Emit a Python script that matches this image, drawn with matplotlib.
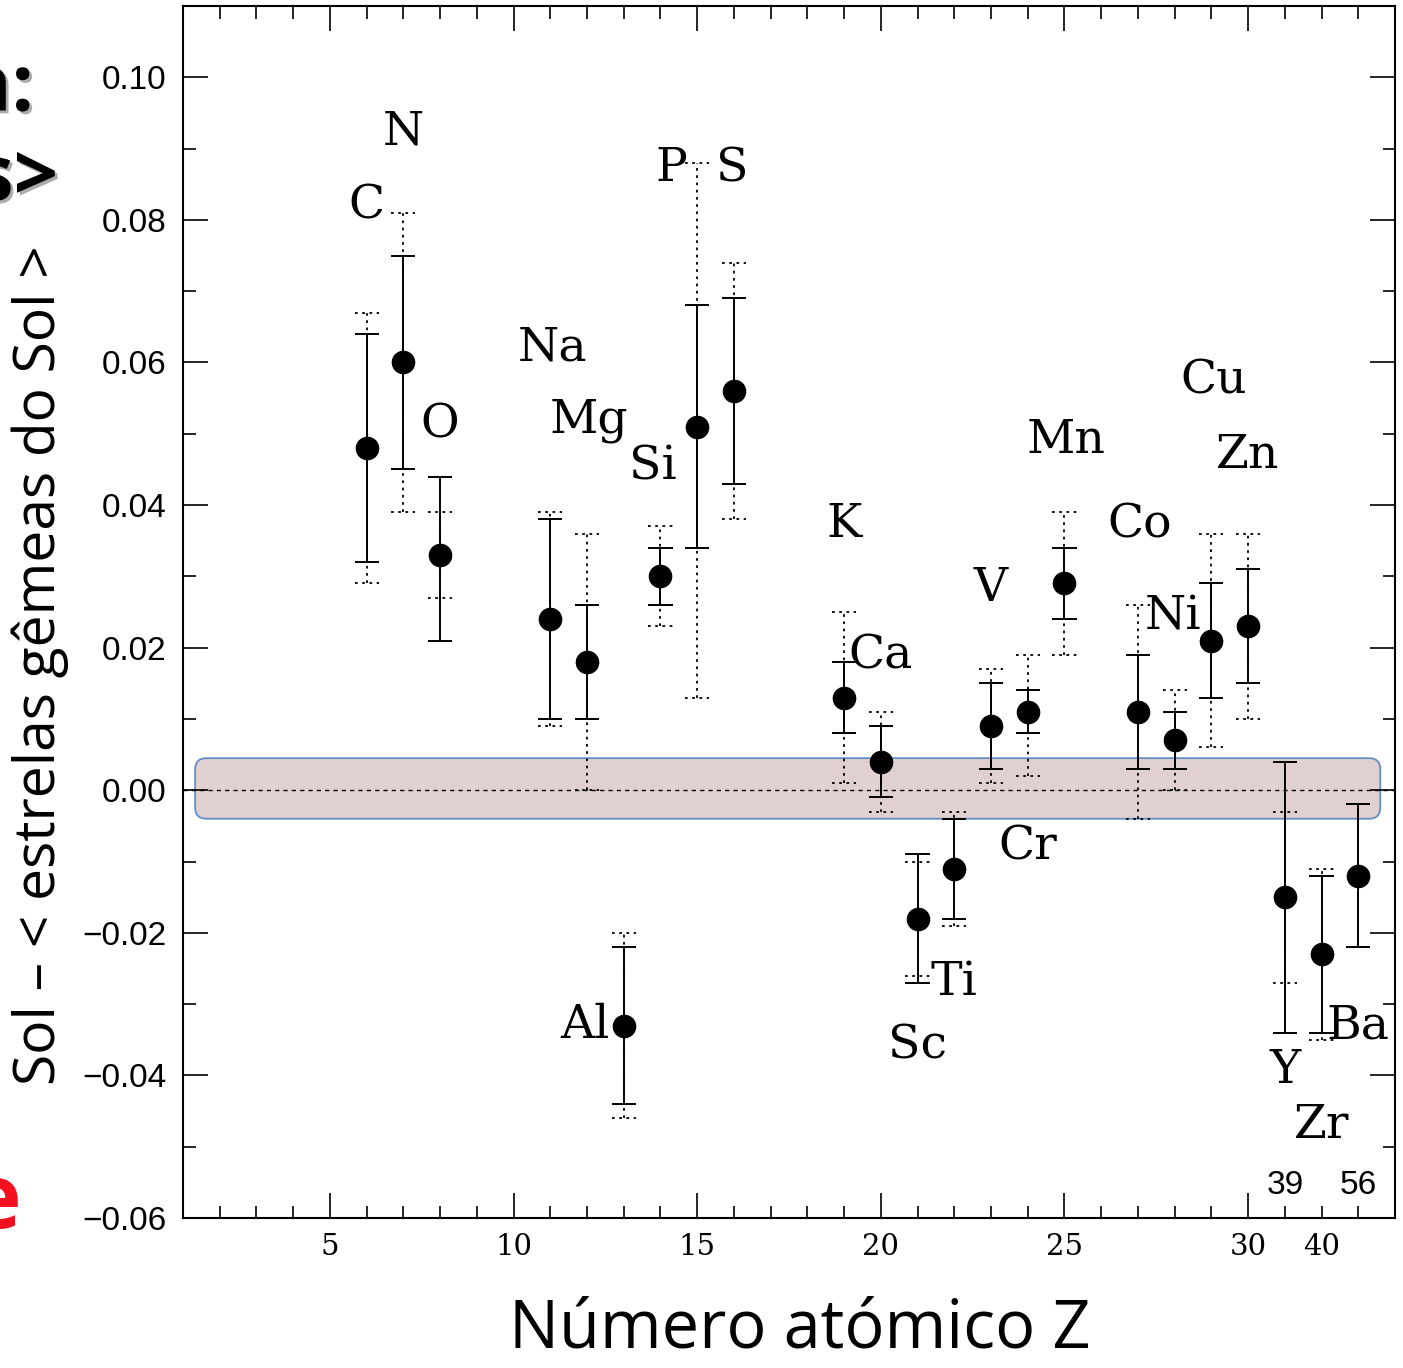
import matplotlib
matplotlib.use("Agg")
import matplotlib.pyplot as plt
import matplotlib.patheffects as pe
from matplotlib.patches import FancyBboxPatch
from matplotlib.ticker import MultipleLocator
import numpy as np

# ----------------------------------------------------------------------------
# data: [X/H]_Sun - <[X/H]_twins> for each element (Z axis compressed after 30)

elements = ['C', 'N', 'O', 'Na', 'Mg', 'Al', 'Si', 'P', 'S', 'K', 'Ca', 'Sc',
            'Ti', 'V', 'Cr', 'Mn', 'Co', 'Ni', 'Cu', 'Zn', 'Y', 'Zr', 'Ba']
z_pos = [6, 7, 8, 11, 12, 13, 14, 15, 16, 19, 20, 21,
         22, 23, 24, 25, 27, 28, 29, 30, 31, 32, 33]
diff = [0.048, 0.060, 0.033, 0.024, 0.018, -0.033, 0.030, 0.051, 0.056, 0.013, 0.004, -0.018,
        -0.011, 0.009, 0.011, 0.029, 0.011, 0.007, 0.021, 0.023, -0.015, -0.023, -0.012]
# solid error bars (top / bottom)
err_top = [0.064, 0.075, 0.044, 0.038, 0.026, -0.022, 0.034, 0.068, 0.069, 0.018, 0.009, -0.009,
           -0.004, 0.015, 0.014, 0.034, 0.019, 0.011, 0.029, 0.031, 0.004, -0.012, -0.002]
err_bot = [0.032, 0.045, 0.021, 0.010, 0.010, -0.044, 0.026, 0.034, 0.043, 0.008, -0.001, -0.027,
           -0.018, 0.003, 0.008, 0.024, 0.003, 0.003, 0.013, 0.015, -0.034, -0.034, -0.022]
# dotted error bars (top / bottom)
dot_top = [0.067, 0.081, 0.039, 0.039, 0.036, -0.020, 0.037, 0.088, 0.074, 0.025, 0.011, -0.010,
           -0.003, 0.017, 0.019, 0.039, 0.026, 0.014, 0.036, 0.036, -0.003, -0.011, np.nan]
dot_bot = [0.029, 0.039, 0.027, 0.009, 0.000, -0.046, 0.023, 0.013, 0.038, 0.001, -0.003, -0.026,
           -0.019, 0.001, 0.002, 0.019, -0.004, 0.000, 0.006, 0.010, -0.027, -0.035, np.nan]

# where each element name sits
label_x = [6.0, 7.0, 8.0, 11.05, 12.05, 11.95, 13.8, 14.3, 15.95, 19.0, 20.0, 21.0,
           22.0, 23.0, 24.0, 25.05, 27.05, 27.95, 29.05, 30.0, 31.0, 32.0, 33.0]
label_y = [0.082, 0.0924, 0.0512, 0.0621, 0.0519, -0.033, 0.0453, 0.0872, 0.0872, 0.0373, 0.0189, -0.0359,
           -0.0269, 0.0283, -0.008, 0.0491, 0.0372, 0.0243, 0.0574, 0.047, -0.0393, -0.047, -0.033]

xtick_pos = [5, 10, 15, 20, 25, 30, 32]
xtick_lab = ['5', '10', '15', '20', '25', '30', '40']
ytick_vals = [-0.06, -0.04, -0.02, 0.00, 0.02, 0.04, 0.06, 0.08, 0.10]
true_z_pos = [31, 33]
true_z_lab = ['39', '56']

# ----------------------------------------------------------------------------

fig = plt.figure(figsize=(14.03, 13.68), dpi=100)
ax = fig.add_axes([183 / 1403, 1 - 1218 / 1368, (1395 - 183) / 1403, (1218 - 6) / 1368])

xmin, xmax = 1.0, 34.0
ymin, ymax = -0.06, 0.110
ax.set_xlim(xmin, xmax)
ax.set_ylim(ymin, ymax)

# shaded band around zero (rounded box)
px_per_x = (1395 - 183) / (xmax - xmin)
px_per_y = (1218 - 6) / (ymax - ymin)
band = FancyBboxPatch((1.33, -0.004), 33.6 - 1.33, 0.0085,
                      boxstyle="round,pad=0,rounding_size=0.3",
                      mutation_aspect=px_per_x / px_per_y,
                      facecolor='#dcc8c8', edgecolor='#4a7ec0', lw=1.3, alpha=0.85, zorder=1)
ax.add_patch(band)

ax.axhline(0, color='black', ls=(0, (3, 3)), lw=1.0, zorder=2)

cap = 0.33
zz = np.array(z_pos)
# dotted bars
ax.vlines(z_pos, dot_bot, dot_top, colors='black', linestyles=(0, (1.5, 2.5)), lw=1.3, zorder=3)
ax.hlines(dot_top, zz - cap, zz + cap, colors='black', linestyles=(0, (1.5, 2.5)), lw=1.3, zorder=3)
ax.hlines(dot_bot, zz - cap, zz + cap, colors='black', linestyles=(0, (1.5, 2.5)), lw=1.3, zorder=3)
# solid bars
ax.vlines(z_pos, err_bot, err_top, colors='black', lw=1.4, zorder=4)
ax.hlines(err_top, zz - cap, zz + cap, colors='black', lw=1.4, zorder=4)
ax.hlines(err_bot, zz - cap, zz + cap, colors='black', lw=1.4, zorder=4)

ax.plot(z_pos, diff, 'o', color='black', ms=16, zorder=5)

for name, lx, ly in zip(elements, label_x, label_y):
    ax.text(lx, ly, name, ha='center', va='center', family='DejaVu Serif', fontsize=34, zorder=6)

for zx, zl in zip(true_z_pos, true_z_lab):
    ax.text(zx, -0.0555, zl, ha='center', va='center', family='Liberation Sans', fontsize=24)

# ticks
ax.set_xticks(xtick_pos)
ax.set_xticklabels(xtick_lab, family='DejaVu Serif', fontsize=21)
ax.xaxis.set_minor_locator(MultipleLocator(1))
ax.set_yticks(ytick_vals)
ax.set_yticklabels([('%.2f' % v).replace('-', '\u2212') for v in ytick_vals],
                   family='Liberation Sans', fontsize=24)
ax.yaxis.set_minor_locator(MultipleLocator(0.01))
ax.tick_params(which='both', direction='in', top=True, right=True, width=1.2)
ax.tick_params(which='major', length=18)
ax.tick_params(which='minor', length=9)
ax.tick_params(axis='x', which='major', pad=11)
ax.tick_params(axis='y', which='major', pad=12)
# the "40" position sits on a short tick
last = ax.xaxis.get_major_ticks()[-1]
last.tick1line.set_markersize(9)
last.tick2line.set_markersize(9)

for s in ax.spines.values():
    s.set_linewidth(1.5)

# slide text around the figure
fig.text(40 / 1403, 1 - 665 / 1368, 'Sol \u2013 < estrelas gêmeas do Sol >', rotation=90,
         ha='center', va='center', family='Open Sans', fontsize=41)
fig.text(800 / 1403, 1 - 1330 / 1368, 'Número atómico Z', ha='center', va='center',
         family='Open Sans', fontsize=48)

shadow = [pe.SimplePatchShadow(offset=(2, -2), shadow_rgbFace='#888888', alpha=0.7), pe.Normal()]
fig.text(34 / 1403, 1 - 90 / 1368, 'n:', ha='right', va='center', family='Open Sans',
         weight='bold', fontsize=56, path_effects=shadow)
fig.text(58 / 1403, 1 - 180 / 1368, 's>', ha='right', va='center', family='Open Sans',
         weight='bold', fontsize=56, path_effects=shadow)
fig.text(22 / 1403, 1 - 1205 / 1368, 'e', ha='right', va='center', family='Open Sans',
         weight='bold', fontsize=64, color='#f5101f')

fig.savefig('out.png', dpi=100)
